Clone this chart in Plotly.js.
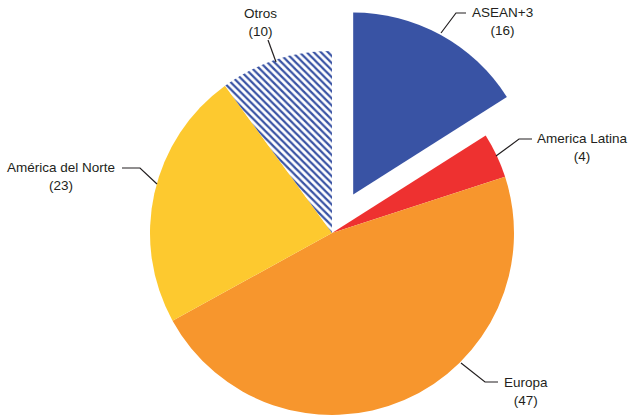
<!DOCTYPE html>
<html>
<head>
<meta charset="utf-8">
<script src="https://cdn.plot.ly/plotly-3.0.1.min.js"></script>
<style>
  html, body { margin: 0; padding: 0; background: #ffffff; }
  #chart { width: 632px; height: 416px; }
</style>
</head>
<body>
<div id="chart"></div>
<script>
// ---- data ----
const categories = ['ASEAN+3', 'America Latina', 'Europa', 'América del Norte', 'Otros'];
const values = [16, 4, 47, 23, 10];
const sliceColors = ['#3953A4', '#EE3130', '#F7962D', '#FDC92F', '#FFFFFF'];
const pulledCategory = 'ASEAN+3';

// ---- geometry (pixels) ----
const W = 632, H = 416;
const R = 182;
const center = { x: 332, y: 233 };
const pullDist = 44;

function px(x) { return x / W; }
function py(y) { return 1 - y / H; }
function domainFor(cx, cy) {
  return { x: [px(cx - R), px(cx + R)], y: [py(cy + R), py(cy - R)] };
}

// angle of pulled slice middle (clockwise from 12 o'clock)
const total = values.reduce((a, b) => a + b, 0);
const pIdx = categories.indexOf(pulledCategory);
let before = 0;
for (let i = 0; i < pIdx; i++) before += values[i];
const midAng = (before + values[pIdx] / 2) / total * 2 * Math.PI;
const pulledCenter = {
  x: center.x + pullDist * Math.sin(midAng),
  y: center.y - pullDist * Math.cos(midAng)
};

const baseColors = sliceColors.map((c, i) => i === pIdx ? 'rgba(0,0,0,0)' : c);
const pulledColors = sliceColors.map((c, i) => i === pIdx ? c : 'rgba(0,0,0,0)');
const patternShapes = categories.map(c => c === 'Otros' ? '\\' : '');

const common = {
  type: 'pie',
  labels: categories,
  values: values,
  sort: false,
  direction: 'clockwise',
  rotation: 0,
  textinfo: 'none',
  hoverinfo: 'none',
  showlegend: false
};

const traceBase = Object.assign({}, common, {
  domain: domainFor(center.x, center.y),
  marker: {
    colors: baseColors,
    line: { width: 0 },
    pattern: { shape: patternShapes, fgcolor: '#3953A4', bgcolor: '#FFFFFF', size: 5, solidity: 0.45 }
  }
});
const tracePulled = Object.assign({}, common, {
  domain: domainFor(pulledCenter.x, pulledCenter.y),
  marker: { colors: pulledColors, line: { width: 0 } }
});

// ---- labels & leader lines (pixel layout positions) ----
const labelPos = {
  'ASEAN+3': { x: 502, y: 21.5 },
  'America Latina': { x: 582.5, y: 147.5 },
  'Europa': { x: 526, y: 391.5 },
  'América del Norte': { x: 61, y: 176.5 },
  'Otros': { x: 260, y: 22.5 }
};
const leaders = {
  'ASEAN+3': [[441, 33], [456, 13], [466, 13]],
  'America Latina': [[496, 156], [519, 139], [532, 139]],
  'Europa': [[461, 363], [485, 382], [498, 382]],
  'América del Norte': [[157, 184], [140, 168], [122, 168]],
  'Otros': [[276, 62], [268, 40]]
};

const annotations = categories.map((c, i) => ({
  xref: 'paper', yref: 'paper',
  x: px(labelPos[c].x), y: py(labelPos[c].y),
  xanchor: 'center', yanchor: 'middle',
  text: c + '<br>(' + values[i] + ')',
  showarrow: false,
  align: 'center',
  font: { family: 'Liberation Sans, Arial, sans-serif', size: 13.5, color: '#231F20' }
}));

const shapes = categories.map(c => ({
  type: 'path',
  xref: 'paper', yref: 'paper',
  path: leaders[c].map((p, k) => (k === 0 ? 'M' : 'L') + px(p[0]) + ',' + py(p[1])).join(' '),
  line: { color: '#231F20', width: 1.2 }
}));

const layout = {
  width: W, height: H,
  margin: { l: 0, r: 0, t: 0, b: 0, pad: 0 },
  paper_bgcolor: '#FFFFFF',
  showlegend: false,
  annotations: annotations,
  shapes: shapes
};

Plotly.newPlot('chart', [traceBase, tracePulled], layout, { displayModeBar: false, staticPlot: true });
</script>
</body>
</html>
